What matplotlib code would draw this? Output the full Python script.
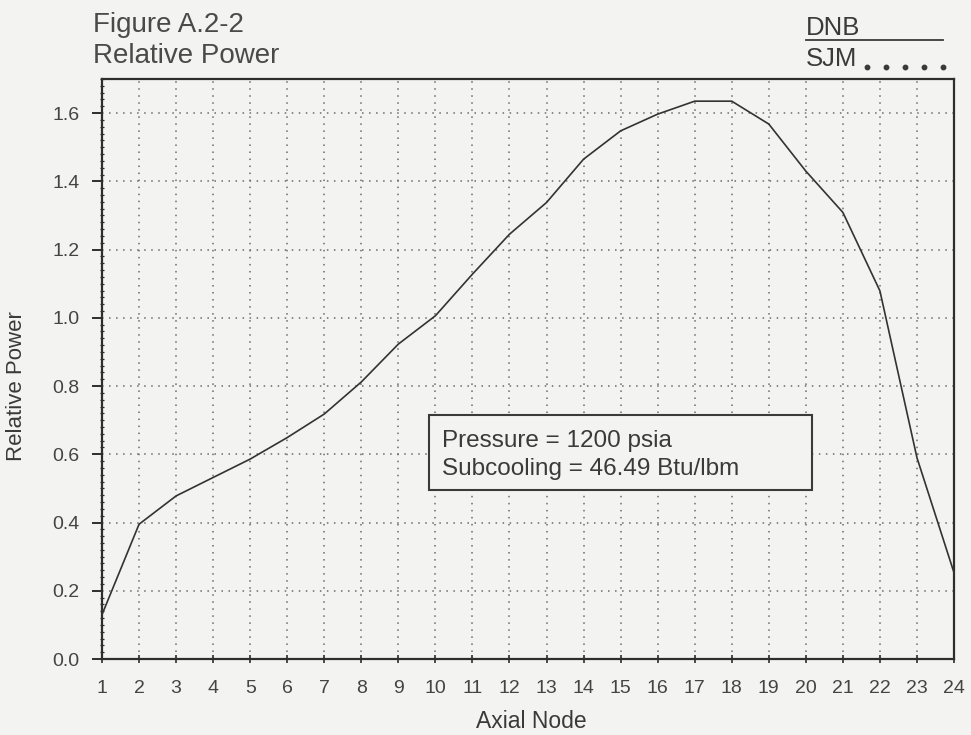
import numpy as np
import matplotlib
matplotlib.use("Agg")
import matplotlib.pyplot as plt
from matplotlib.lines import Line2D
from matplotlib.patches import Rectangle
from matplotlib.ticker import MultipleLocator

plt.rcParams['font.family'] = ['Liberation Sans', 'DejaVu Sans']

# Relative power at each axial node
axial_node = [1, 2, 3, 4, 5, 6, 7, 8, 9, 10, 11, 12,
              13, 14, 15, 16, 17, 18, 19, 20, 21, 22, 23, 24]
relative_power = [0.130, 0.395, 0.478, 0.532, 0.586, 0.649, 0.718, 0.812,
                  0.923, 1.006, 1.128, 1.245, 1.338, 1.465, 1.548, 1.597,
                  1.635, 1.635, 1.568, 1.430, 1.309, 1.079, 0.590, 0.253]
x_ticks = list(range(1, 25))
y_ticks = [0.0, 0.2, 0.4, 0.6, 0.8, 1.0, 1.2, 1.4, 1.6]

W, H = 971, 735
BG = '#f3f3f1'
INK = '#3a3a3a'
GRID = '#6a6a6a'

fig = plt.figure(figsize=(W / 100, H / 100), dpi=100, facecolor=BG)
ax = fig.add_axes([102 / W, (H - 659) / H, 852 / W, 580 / H], facecolor=BG)

ax.plot(axial_node, relative_power, color='#333333', lw=1.2, zorder=4,
        solid_joinstyle='round')

ax.set_xlim(1, 24)
ax.set_ylim(0, 1.70)
ax.set_xticks(x_ticks)
ax.set_xticklabels([str(t) for t in x_ticks])
ax.set_yticks(y_ticks)
ax.set_yticklabels([f"{t:.1f}" for t in y_ticks])
ax.yaxis.set_minor_locator(MultipleLocator(0.02))

# dotted grid
for xv in x_ticks[1:-1]:
    ax.axvline(xv, color=GRID, lw=1.1, ls=(0, (1, 3.6)), zorder=1)
for yv in y_ticks[1:]:
    ax.axhline(yv, color=GRID, lw=1.1, ls=(0, (1, 3.6)), zorder=1)

for s in ax.spines.values():
    s.set_color('#2e2e2e')
    s.set_linewidth(1.6)

ax.tick_params(axis='x', which='major', direction='inout', length=6, width=1.2,
               color='#2e2e2e', labelsize=14, labelcolor='#444444', pad=12)
ax.tick_params(axis='y', which='major', direction='out', length=7, width=1.4,
               color='#2e2e2e', labelsize=14, labelcolor='#444444', pad=9)
ax.tick_params(axis='y', which='minor', direction='inout', length=3.5, width=0.9,
               color='#2e2e2e')

# axis titles
fig.text(531 / W, 1 - 722 / H, 'Axial Node', ha='center', va='center',
         fontsize=16.5, color=INK)
fig.text(17 / W, 1 - 386 / H, 'Relative Power', ha='center', va='center',
         rotation=90, fontsize=16, color=INK)

# header
fig.text(93 / W, 1 - 32 / H, 'Figure A.2-2', ha='left', va='baseline',
         fontsize=20, color='#4a4a4a')
fig.text(93 / W, 1 - 63 / H, 'Relative Power', ha='left', va='baseline',
         fontsize=20, color='#4a4a4a')

# key in the header
fig.text(806 / W, 1 - 35 / H, 'DNB', ha='left', va='baseline',
         fontsize=18.5, color='#3a3a3a')
fig.add_artist(Line2D([806 / W, 943 / W], [1 - 40 / H, 1 - 40 / H],
                      transform=fig.transFigure, color='#3a3a3a', lw=1.3))
fig.text(806 / W, 1 - 66 / H, 'SJM', ha='left', va='baseline',
         fontsize=18.5, color='#3a3a3a')
dot_x = np.linspace(867, 943, 5) / W
fig.add_artist(Line2D(dot_x, [1 - 67 / H] * len(dot_x),
                      transform=fig.transFigure, ls='none', marker='o',
                      ms=3.2, color='#3a3a3a'))

# condition box
ax.add_patch(Rectangle((0.384, 0.291), 0.449, 0.130, transform=ax.transAxes,
                       facecolor=BG, edgecolor='#3a3a3a', lw=1.5, zorder=5))
ax.text(0.399, 0.366, 'Pressure = 1200 psia', transform=ax.transAxes,
        ha='left', va='baseline', fontsize=17.5, color=INK, zorder=6)
ax.text(0.399, 0.317, 'Subcooling = 46.49 Btu/lbm', transform=ax.transAxes,
        ha='left', va='baseline', fontsize=17.5, color=INK, zorder=6)

fig.savefig('out.png', dpi=100, facecolor=BG)
